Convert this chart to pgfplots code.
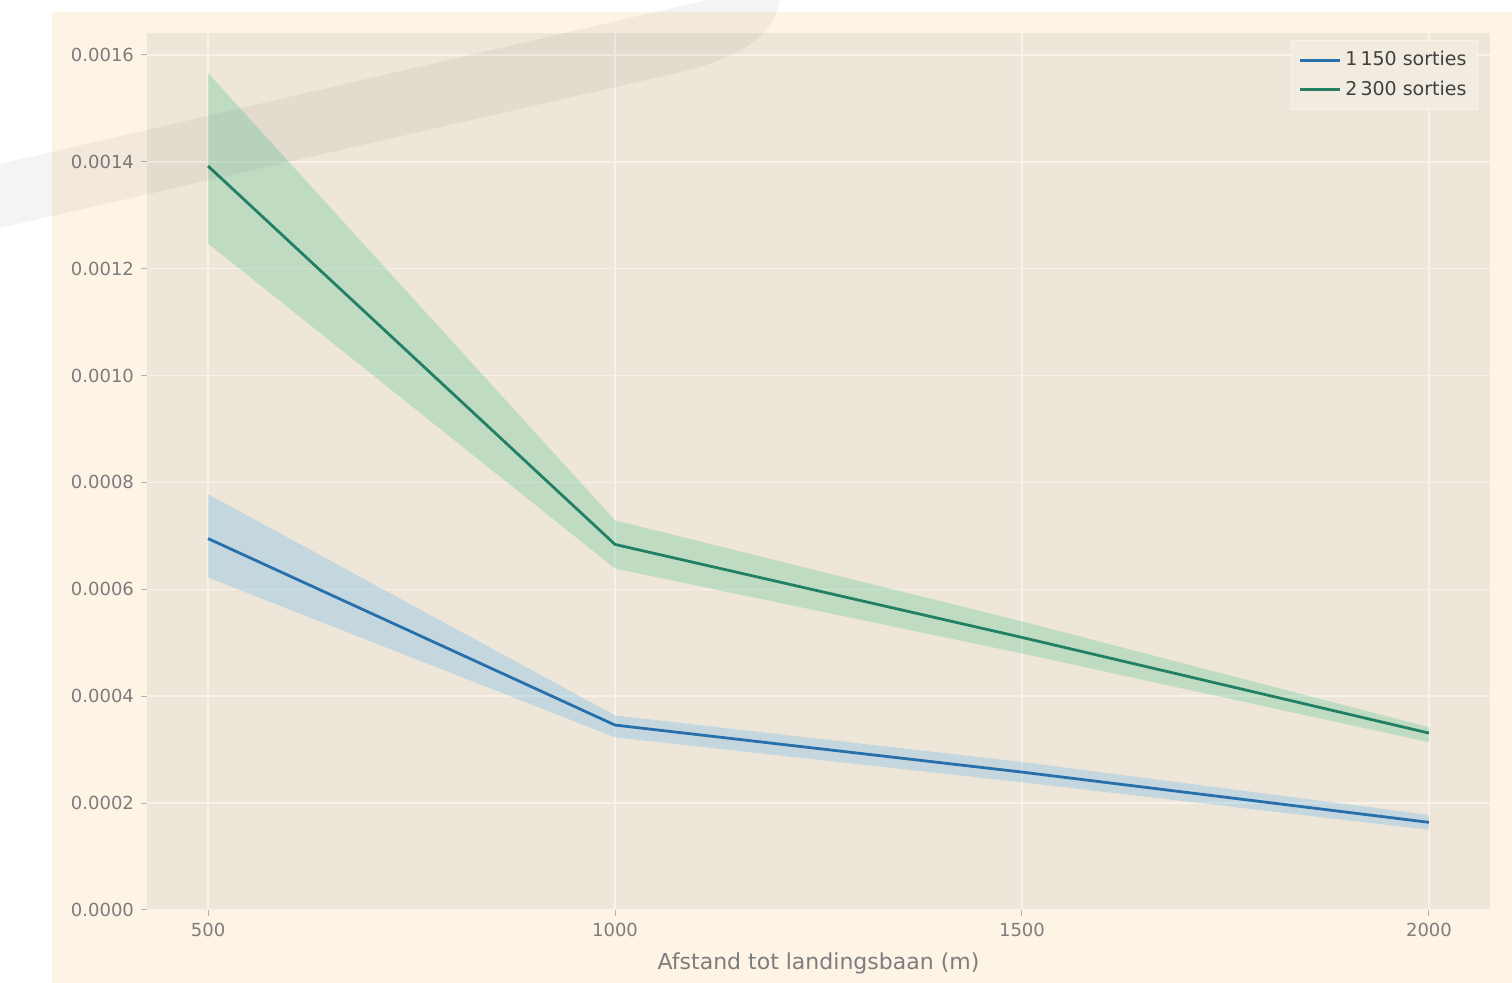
\documentclass[border=0pt]{standalone}
\usepackage{fontspec}
\setmainfont{DejaVu Sans}
\usepackage{pgfplots}
\pgfplotsset{compat=1.18}

\definecolor{outerbg}{RGB}{253,244,230}
\definecolor{plotbg}{RGB}{238,230,216}
\definecolor{gridc}{RGB}{248,242,233}
\definecolor{tickc}{RGB}{125,125,125}
\definecolor{blueline}{RGB}{40,112,172}
\definecolor{blueband}{RGB}{125,190,235}
\definecolor{greenline}{RGB}{34,128,100}
\definecolor{greenband}{RGB}{110,205,160}
\definecolor{legbg}{RGB}{242,235,224}

\begin{document}
\begin{tikzpicture}
% page and figure background
\fill[white] (0,0) rectangle (756pt,491.5pt);
\fill[outerbg] (26pt,0) rectangle (756pt,485.5pt);

\begin{axis}[
    at={(73.5pt,36.5pt)}, anchor=south west,
    scale only axis,
    width=671.5pt, height=438.5pt,
    xmin=425, xmax=2075,
    ymin=0, ymax=0.001641,
    axis background/.style={fill=plotbg},
    axis line style={draw=none},
    xtick={500,1000,1500,2000},
    ytick={0,0.0002,0.0004,0.0006,0.0008,0.0010,0.0012,0.0014,0.0016},
    tick pos=left,
    scaled y ticks=false,
    yticklabel style={/pgf/number format/.cd, fixed, fixed zerofill, precision=4, assume math mode=true},
    xticklabel style={/pgf/number format/.cd, assume math mode=true, set thousands separator={}},
    ticklabel style={font=\fontsize{9}{10}\selectfont, text=tickc},
    tick align=outside,
    major tick length=3pt,
    tick style={draw=tickc!60, line width=0.5pt},
    grid=major,
    grid style={draw=gridc, line width=0.8pt},
    xlabel={Afstand tot landingsbaan (m)},
    xlabel style={font=\fontsize{11}{12}\selectfont, text=tickc, yshift=-1pt},
    legend style={at={(0.991,0.992)}, anchor=north east,
      fill=legbg, draw=gridc, font=\fontsize{9.5}{11}\selectfont,
      text=black!75, row sep=2pt, inner sep=3.5pt},
    legend cell align=left,
    legend image code/.code={\draw[#1] (0pt,0pt) -- (20pt,0pt);},
]
% 1 150 sorties: band (upper edge, then lower edge back)
\addplot[fill=blueband, fill opacity=0.36, draw=none, forget plot] coordinates {
  (500,0.000778) (1000,0.000364) (1500,0.000277) (2000,0.000178)
  (2000,0.000150) (1500,0.000239) (1000,0.000323) (500,0.000622)} -- cycle;
% 2 300 sorties: band
\addplot[fill=greenband, fill opacity=0.36, draw=none, forget plot] coordinates {
  (500,0.001566) (1000,0.000729) (1500,0.000540) (2000,0.000342)
  (2000,0.000314) (1500,0.000480) (1000,0.000639) (500,0.001247)} -- cycle;
% mean lines
\addplot[blueline, line width=1.4pt] coordinates {
  (500,0.000695) (1000,0.000346) (1500,0.000258) (2000,0.000164)};
\addlegendentry{1\,150 sorties}
\addplot[greenline, line width=1.4pt] coordinates {
  (500,0.001392) (1000,0.000684) (1500,0.000510) (2000,0.000331)};
\addlegendentry{2\,300 sorties}
\end{axis}

% translucent swoosh over the top-left corner
\fill[black, opacity=0.045] (0,409.5pt) -- (353.5pt,491.5pt) -- (390pt,491.5pt)
  .. controls (387.5pt,479pt) and (380pt,466.5pt) .. (345pt,456.5pt)
  -- (0,377.5pt) -- cycle;
\end{tikzpicture}
\end{document}
